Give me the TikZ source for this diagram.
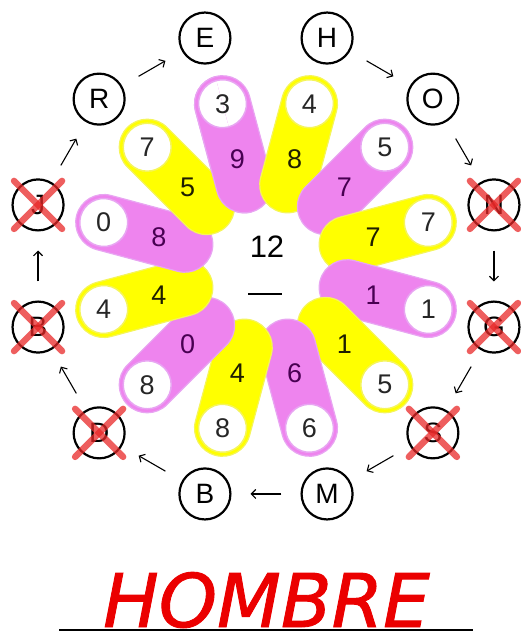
\documentclass[tikz,border=0pt]{standalone}
\usepackage{fontspec}
\setmainfont{Liberation Sans}
\newfontfamily\titlefont[ItalicFeatures={FakeBold=1.2}]{DejaVu Sans}
\usetikzlibrary{arrows.meta,calc}
\definecolor{petpink}{RGB}{238,132,238}
\definecolor{petpinkedge}{RGB}{232,165,242}
\definecolor{petyel}{RGB}{255,255,0}
\definecolor{petyeledge}{RGB}{245,245,90}
\definecolor{innerpink}{RGB}{72,0,82}
\definecolor{inneryel}{RGB}{30,30,0}
\definecolor{crossred}{RGB}{232,40,40}
\definecolor{titlered}{RGB}{235,0,0}
\newcommand\mypetal[3]{%
  \begin{scope}[shift={(C)},rotate=#1]
    \filldraw[fill=#2,draw=#3,line width=1.2pt] (84,-28) arc[start angle=270,end angle=90,radius=28] -- (168,28) arc[start angle=90,end angle=-90,radius=28] -- cycle;
    \filldraw[fill=white,draw=#3,line width=1.5pt] (168,0) circle[radius=24];
  \end{scope}}
\begin{document}
\begin{tikzpicture}[x=1pt,y=1pt,
  letter/.style={circle,draw=black,line width=2.2pt,minimum size=51pt,inner sep=0pt,font=\fontsize{28}{28}\selectfont},
  digitout/.style={font=\fontsize{27}{27}\selectfont,text=black!85,inner sep=0pt},
  digitpink/.style={font=\fontsize{27}{27}\selectfont,text=innerpink,inner sep=0pt},
  digityel/.style={font=\fontsize{27}{27}\selectfont,text=inneryel,inner sep=0pt},
  flow/.style={-{Straight Barb[length=4.5pt,width=9pt]},line width=1.1pt,shorten <=19pt,shorten >=19pt},
  crossx/.style={crossred,opacity=0.75,line width=6.5pt,line cap=round}
]
\useasboundingbox (0,0) rectangle (520,635);
\coordinate (C) at (266,369);
% petals, clockwise, each on top of the previous
\mypetal{105}{petpink}{petpinkedge}
\mypetal{75}{petyel}{petyeledge}
\mypetal{45}{petpink}{petpinkedge}
\mypetal{15}{petyel}{petyeledge}
\mypetal{-15}{petpink}{petpinkedge}
\mypetal{-45}{petyel}{petyeledge}
\mypetal{-75}{petpink}{petpinkedge}
\mypetal{-105}{petyel}{petyeledge}
\mypetal{-135}{petpink}{petpinkedge}
\mypetal{-165}{petyel}{petyeledge}
\mypetal{165}{petpink}{petpinkedge}
\mypetal{135}{petyel}{petyeledge}
\begin{scope}
  \clip (C) -- ($(C)+(105:400)$) -- ($(C)+(195:400)$) -- ($(C)+(285:400)$) -- cycle;
  \mypetal{105}{petpink}{petpinkedge}
\end{scope}
% petal numbers
\foreach \a/\o/\i/\s [count=\k] in {105/3/9/digitpink,75/4/8/digityel,45/5/7/digitpink,15/7/7/digityel,-15/1/1/digitpink,-45/5/1/digityel,-75/6/6/digitpink,-105/8/4/digityel,-135/8/0/digitpink,-165/4/4/digityel,165/0/8/digitpink,135/7/5/digityel}{
  \node[digitout] (po\k) at ($(C)+(\a:168)$) {\o};
  \node[\s] (pi\k) at ($(C)+(\a:111)$) {\i};
}
% centre
\node[inner sep=0pt,font=\fontsize{31}{31}\selectfont] (twelve) at ($(C)+(1,19)$) {12};
\node[inner sep=0pt] (bar) at ($(C)+(-1,-28)$) {\rule{34pt}{2.6pt}};
% letters
\foreach \a/\t [count=\k] in {105/E,75/H,45/O,15/N,-15/G,-45/S,-75/M,-105/B,-135/D,-165/B,165/J,135/R}{
  \node[letter] (L\k) at ($(C)+(\a:236)$) {\t};
}
% arrows
\foreach \p/\q in {2/3,3/4,4/5,5/6,6/7,7/8,8/9,9/10,10/11,11/12,12/1}{
  \draw[flow] (L\p) -- (L\q);
}
% crosses
\foreach \k in {4,5,6,9,10,11}{
  \draw[crossx] ($(L\k)+(-24,-24)$) -- ($(L\k)+(24,24)$);
  \draw[crossx] ($(L\k)+(-24,24)$) -- ($(L\k)+(24,-24)$);
}
% title
\node[font=\titlefont\itshape\fontsize{74}{74}\selectfont,text=titlered,anchor=base,inner sep=0pt] (title) at (266.5,8) {HOMBRE};
\coordinate (ulA) at (59,5);
\coordinate (ulB) at (473,5);
\draw[line width=2pt] (ulA) -- (ulB);
\end{tikzpicture}
\end{document}
